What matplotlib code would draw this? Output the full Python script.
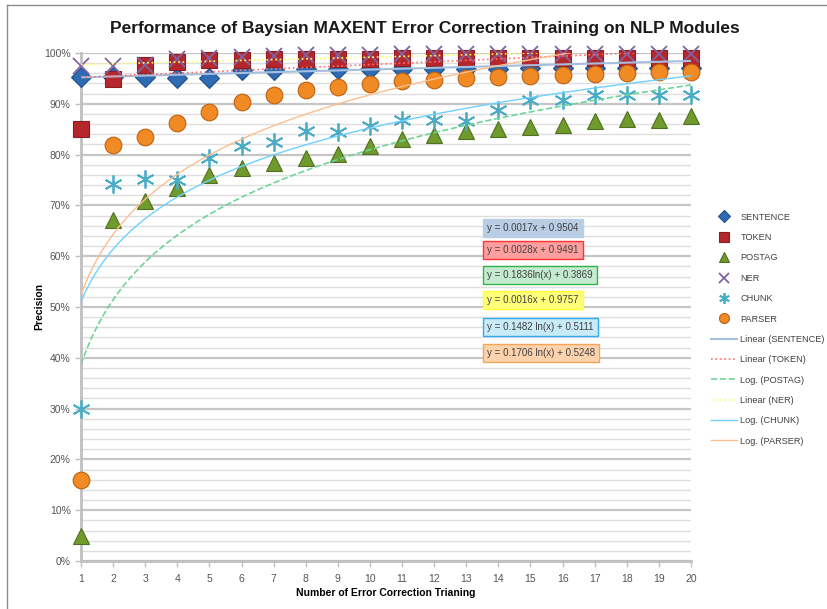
import numpy as np
import matplotlib
matplotlib.use('Agg')
import matplotlib.pyplot as plt
from matplotlib.ticker import MultipleLocator, PercentFormatter
from matplotlib.lines import Line2D
from matplotlib import font_manager

# Data
steps = list(range(1, 21))

sentence = [0.952, 0.952, 0.952, 0.950, 0.950, 0.967, 0.967, 0.968, 0.968, 0.968,
            0.968, 0.969, 0.969, 0.969, 0.970, 0.970, 0.970, 0.970, 0.970, 0.970]
token = [0.850, 0.948, 0.976, 0.983, 0.986, 0.987, 0.988, 0.988, 0.989, 0.989,
         0.990, 0.990, 0.990, 0.990, 0.990, 0.990, 0.990, 0.990, 0.990, 0.990]
postag = [0.049, 0.671, 0.709, 0.734, 0.760, 0.774, 0.783, 0.793, 0.802, 0.817,
          0.830, 0.839, 0.847, 0.850, 0.854, 0.858, 0.867, 0.870, 0.868, 0.876]
ner = [0.974, 0.974, 0.976, 0.988, 0.990, 0.992, 0.994, 0.996, 0.996, 0.996,
       0.998, 0.998, 0.998, 0.998, 0.998, 0.998, 0.998, 0.998, 0.998, 0.998]
chunk = [0.300, 0.742, 0.752, 0.750, 0.793, 0.816, 0.824, 0.847, 0.845, 0.856,
         0.868, 0.868, 0.867, 0.888, 0.907, 0.907, 0.917, 0.917, 0.917, 0.917]
parser = [0.159, 0.819, 0.835, 0.862, 0.884, 0.904, 0.917, 0.927, 0.934, 0.939,
          0.944, 0.947, 0.950, 0.952, 0.955, 0.957, 0.959, 0.960, 0.962, 0.962]

series_names = ['SENTENCE', 'TOKEN', 'POSTAG', 'NER', 'CHUNK', 'PARSER']

# Trendline coefficients shown on the chart
trend_kind = ['Linear', 'Linear', 'Log.', 'Linear', 'Log.', 'Log.']
trend_a = [0.0017, 0.0028, 0.1836, 0.0016, 0.1482, 0.1706]
trend_b = [0.9504, 0.9491, 0.3869, 0.9757, 0.5111, 0.5248]
trend_labels = ['y = 0.0017x + 0.9504', 'y = 0.0028x + 0.9491',
                'y = 0.1836ln(x) + 0.3869', 'y = 0.0016x + 0.9757',
                'y = 0.1482 ln(x) + 0.5111', 'y = 0.1706 ln(x) + 0.5248']

all_values = [sentence, token, postag, ner, chunk, parser]

# pick a narrow font if there is one, Calibri-like look
installed = {f.name for f in font_manager.fontManager.ttflist}
narrow = 'Liberation Sans Narrow' if 'Liberation Sans Narrow' in installed else 'Liberation Sans'
plt.rcParams['font.family'] = [narrow, 'DejaVu Sans']

# styles
markers = ['D', 's', '^', 'x', (6, 2, 0), 'o']
marker_colors = ['#2f6bb3', '#b5272d', '#6f9a2c', '#8064a2', '#4bacc6', '#f08a24']
marker_edges = ['#1f4f8a', '#8c1d22', '#4f7020', '#8064a2', '#4bacc6', '#c0600e']
marker_sizes = [10, 12, 12, 11, 13, 12]
trend_colors = ['#a6bfdf', '#ff6f6f', '#6fd497', '#ffff66', '#6fd0ff', '#fbbf8f']
trend_styles = ['-', ':', '--', ':', '-', '-']
trend_widths = [1.5, 1.2, 1.2, 1.2, 1.0, 1.0]
box_faces = ['#b9cde5', '#ff9f9f', '#c4ebcf', '#ffff7a', '#c9ebf7', '#fcd3ad']
box_edges = ['#b9cde5', '#ff3333', '#33b34d', '#ffff33', '#33aaee', '#f5a55a']

W, H = 828, 609
fig = plt.figure(figsize=(W / 100, H / 100), dpi=100)
ax = fig.add_axes([81 / W, 1 - 561 / H, (691 - 81) / W, (561 - 53) / H])

# outer chart border
fig.add_artist(Line2D([7 / W, 1], [1 - 5 / H, 1 - 5 / H], color='#8c8c8c', lw=1))
fig.add_artist(Line2D([7 / W, 7 / W], [0, 1 - 5 / H], color='#8c8c8c', lw=1))

# markers
for name, vals, m, fc, ec, ms in zip(series_names, all_values, markers,
                                     marker_colors, marker_edges, marker_sizes):
    if m in ('x', (6, 2, 0)):
        ax.plot(steps, vals, linestyle='None', marker=m, markersize=ms,
                color=fc, markeredgewidth=1.3, clip_on=False, zorder=3, label=name)
    else:
        ax.plot(steps, vals, linestyle='None', marker=m, markersize=ms,
                markerfacecolor=fc, markeredgecolor=ec, markeredgewidth=0.8,
                clip_on=False, zorder=3, label=name)

# trendlines
xs = np.linspace(1, 20, 300)
for name, kind, a, b, c, ls, lw in zip(series_names, trend_kind, trend_a, trend_b,
                                       trend_colors, trend_styles, trend_widths):
    if kind == 'Linear':
        ys = a * xs + b
    else:
        ys = a * np.log(xs) + b
    ax.plot(xs, ys, color=c, linestyle=ls, linewidth=lw, zorder=4,
            label=f'{kind} ({name})')

ax.set_xlim(1, 20)
ax.set_ylim(0, 1)
ax.set_xticks(steps)
ax.yaxis.set_major_locator(MultipleLocator(0.1))
ax.yaxis.set_minor_locator(MultipleLocator(0.02))
ax.yaxis.set_major_formatter(PercentFormatter(xmax=1, decimals=0))
ax.grid(axis='y', which='major', color='#c6c6c6', linewidth=1.6, zorder=0)
ax.grid(axis='y', which='minor', color='#dedede', linewidth=1.0, zorder=0)
ax.set_axisbelow(True)

for s in ['top', 'right']:
    ax.spines[s].set_visible(False)
ax.spines['left'].set_color('#c0c0c0')
ax.spines['left'].set_linewidth(2)
ax.spines['bottom'].set_color('#c0c0c0')
ax.spines['bottom'].set_linewidth(2)
ax.tick_params(axis='both', which='major', labelsize=7.5, labelcolor='#555555',
               color='#c0c0c0', length=4, width=1)
ax.tick_params(axis='y', which='minor', length=0)
ax.tick_params(axis='x', pad=5)

ax.set_xlabel('Number of Error Correction Trianing', fontsize=7.5, fontweight='bold',
              labelpad=3)
ax.set_ylabel('Precision', fontsize=7.5, fontweight='bold', labelpad=0)
fig.text(425 / W, 1 - 28 / H,
         'Performance of Baysian MAXENT Error Correction Training on NLP Modules',
         ha='center', va='center', fontsize=12.5, fontweight='bold', color='#1a1a1a')

# equation boxes
box_y = [228, 250, 275, 300, 327, 353]
for lab, y, fc, ec in zip(trend_labels, box_y, box_faces, box_edges):
    fig.text(487 / W, 1 - y / H, lab, ha='left', va='center', fontsize=7,
             color='#404040',
             bbox=dict(boxstyle='square,pad=0.45', facecolor=fc, edgecolor=ec, lw=1))

# legend
handles, labels = ax.get_legend_handles_labels()
leg = fig.legend(handles, labels, loc='upper left',
                 bbox_to_anchor=(707 / W, 1 - 209 / H), frameon=False,
                 fontsize=6.6, markerscale=0.6, handlelength=2.9, handletextpad=0.35,
                 labelspacing=1.24, borderaxespad=0)
for t in leg.get_texts():
    t.set_color('#404040')

fig.savefig('out.png', dpi=100)
